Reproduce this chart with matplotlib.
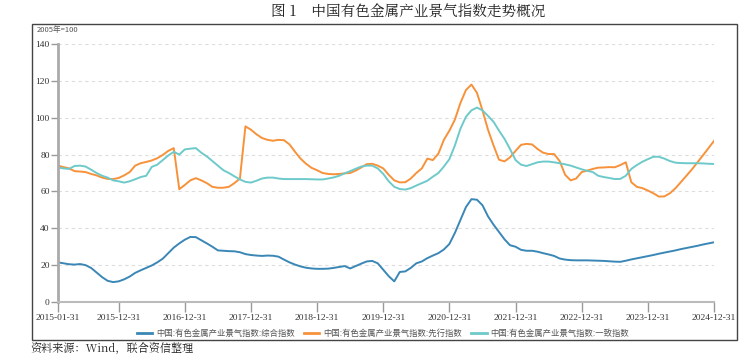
import matplotlib
matplotlib.use("Agg")
import matplotlib.pyplot as plt
from matplotlib.patches import Rectangle
from matplotlib.lines import Line2D

plt.rcParams['font.family'] = ['Noto Sans CJK SC', 'DejaVu Sans']

tick_labels = ["2015-01-31", "2015-12-31", "2016-12-31", "2017-12-31", "2018-12-31",
               "2019-12-31", "2020-12-31", "2021-12-31", "2022-12-31", "2023-12-31", "2024-12-31"]
tick_idx = [0, 11, 23, 35, 47, 59, 71, 83, 95, 107, 119]

composite = [21.5, 21.0, 20.5, 20.3, 20.6, 20.0, 18.5, 16.0, 13.5, 11.5,
             10.8, 11.2, 12.3, 13.8, 15.8, 17.2, 18.5, 19.8, 21.5, 23.5,
             26.5, 29.5, 31.8, 33.8, 35.3, 35.2, 33.5, 31.8, 30.0, 28.0,
             27.8, 27.6, 27.5, 27.0, 26.0, 25.5, 25.2, 25.0, 25.2, 25.1,
             24.6, 23.0, 21.5, 20.3, 19.3, 18.6, 18.2, 18.0, 18.0, 18.1,
             18.5, 19.0, 19.5, 18.2, 19.5, 20.8, 22.0, 22.3, 21.0, 17.5,
             14.0, 11.2, 16.3, 16.6, 18.5, 21.0, 22.0, 23.8, 25.2, 26.5,
             28.5, 31.5, 37.5, 44.5, 51.5, 55.8, 55.5, 52.5, 46.5, 42.0,
             38.0, 34.0, 30.8, 30.0, 28.3, 27.8, 27.8, 27.3, 26.5, 25.8,
             25.0, 23.6, 23.0, 22.7, 22.6, 22.6, 22.6, 22.5, 22.4, 22.3,
             22.1, 21.9, 21.8, 22.4, 23.1, 23.7, 24.3, 24.9, 25.5, 26.2,
             26.8, 27.4, 28.0, 28.7, 29.3, 29.9, 30.5, 31.2, 31.8, 32.4]

leading = [74.0, 73.2, 72.5, 71.0, 70.8, 70.5, 69.5, 68.7, 67.5, 66.8,
           66.7, 67.3, 68.7, 70.5, 74.0, 75.3, 76.0, 76.8, 78.0, 79.8,
           82.0, 83.5, 61.2, 63.5, 66.0, 67.2, 66.0, 64.5, 62.5, 62.0,
           62.0, 62.5, 64.5, 67.0, 95.3, 93.5, 91.0, 89.0, 88.0, 87.5,
           88.0, 87.8, 85.5, 81.5, 77.8, 75.0, 72.8, 71.5, 70.0, 69.5,
           69.3, 69.5, 69.8, 70.0, 71.3, 73.0, 74.8, 75.0, 74.0, 72.5,
           69.0, 66.0, 64.9, 65.0, 67.0, 70.0, 72.5, 77.8, 77.0, 80.5,
           88.0, 93.0, 99.0, 108.0, 115.0, 118.0, 113.5, 104.0, 93.5, 85.0,
           77.2, 76.3, 78.5, 82.0, 85.3, 85.8, 85.5, 83.0, 81.0, 80.3,
           80.3, 76.5, 69.0, 66.0, 67.0, 70.5, 71.3, 72.2, 72.9, 73.0,
           73.2, 73.1, 74.3, 75.8, 65.0, 62.5, 61.8, 60.5, 59.0, 57.2,
           57.3, 59.0, 61.7, 65.1, 68.5, 72.0, 75.8, 79.6, 83.5, 87.4]

coincident = [73.0, 72.5, 72.2, 73.8, 74.0, 73.5, 71.8, 70.0, 68.5, 67.5,
              66.0, 65.5, 64.8, 65.5, 66.6, 67.8, 68.5, 73.3, 74.5, 77.0,
              79.5, 81.5, 80.0, 82.8, 83.2, 83.5, 81.0, 79.0, 76.5, 74.0,
              71.5, 70.0, 68.2, 66.5, 65.2, 64.8, 65.8, 67.0, 67.5, 67.5,
              67.0, 66.7, 66.7, 66.7, 66.7, 66.7, 66.6, 66.5, 66.5, 67.0,
              67.6, 68.5, 69.8, 71.0, 72.3, 73.5, 74.0, 74.0, 72.5, 69.5,
              65.5, 62.5, 61.3, 61.0, 61.8, 63.2, 64.5, 65.8, 68.0, 70.0,
              73.5, 77.5, 85.0, 94.0, 100.5, 104.0, 105.5, 104.0, 101.0, 97.8,
              93.0, 88.5, 83.0, 77.0, 74.5, 73.8, 74.8, 75.8, 76.2, 76.2,
              75.8, 75.3, 74.7, 74.0, 73.0, 72.0, 71.2, 70.5, 68.5, 67.8,
              67.3, 66.7, 66.8, 68.5, 72.2, 74.3, 76.1, 77.5, 78.8, 78.8,
              77.8, 76.5, 75.6, 75.4, 75.3, 75.3, 75.3, 75.2, 75.0, 74.9]

series_names = ["中国:有色金属产业景气指数:综合指数",
                "中国:有色金属产业景气指数:先行指数",
                "中国:有色金属产业景气指数:一致指数"]
colors = ["#3a87b6", "#f7923a", "#6ecaca"]

W, H = 755, 358
fig = plt.figure(figsize=(W / 100, H / 100), dpi=100)

# outer frame
fig.patches.append(Rectangle((32 / W, 1 - 340 / H), (737 - 32) / W, (340 - 24) / H,
                             transform=fig.transFigure, fill=False,
                             edgecolor="#444444", linewidth=1.0))

fig.text(408 / W, 1 - 12 / H, "图 1    中国有色金属产业景气指数走势概况",
         ha="center", va="center", fontsize=10.5, color="#222222",
         family=['Noto Serif CJK SC', 'Noto Sans CJK SC', 'DejaVu Sans'])

ax = fig.add_axes([58 / W, 1 - 302 / H, (714 - 58) / W, (302 - 44) / H])
x = list(range(len(composite)))
for data, c, name in zip([composite, leading, coincident], colors, series_names):
    ax.plot(x, data, color=c, lw=1.4, label=name, solid_joinstyle="round")

ax.set_xlim(0, 119)
ax.set_ylim(0, 140)
ax.set_yticks(range(0, 141, 20))
ax.set_xticks(tick_idx)
ax.set_xticklabels(tick_labels)
for lab in ax.get_xticklabels() + ax.get_yticklabels():
    lab.set_family(['Liberation Serif', 'DejaVu Serif'])
    lab.set_fontsize(6.8)
    lab.set_color("#333333")
ax.tick_params(axis='y', length=5, width=1, color="#999999", pad=1)
ax.tick_params(axis='x', length=7, width=1, color="#999999", pad=2)
for s in ["top", "right"]:
    ax.spines[s].set_visible(False)
ax.spines["left"].set_color("#aaaaaa")
ax.spines["left"].set_linewidth(2)
ax.spines["bottom"].set_color("#bbbbbb")
ax.spines["bottom"].set_linewidth(1.5)
ax.grid(axis='y', linestyle=(0, (3, 3)), color="#dddddd", lw=0.8)
ax.set_axisbelow(True)
ax.patch.set_alpha(0)

fig.text(37 / W, 1 - 30 / H, "2005年=100", fontsize=5.5, color="#555555",
         ha="left", va="center")

handles = [Line2D([0], [0], color=c, lw=2) for c in colors]
fig.legend(handles, series_names, loc="center", bbox_to_anchor=(383 / W, 1 - 333 / H),
           ncol=3, frameon=False, fontsize=6.0, handlelength=1.9, handletextpad=0.5,
           columnspacing=1.0, labelcolor="#555555")

fig.text(30 / W, 1 - 350 / H, "资料来源：Wind，联合资信整理", fontsize=8, color="#222222",
         ha="left", va="center",
         family=['Noto Serif CJK SC', 'Noto Sans CJK SC', 'DejaVu Sans'])

fig.savefig("out.png", dpi=100)
